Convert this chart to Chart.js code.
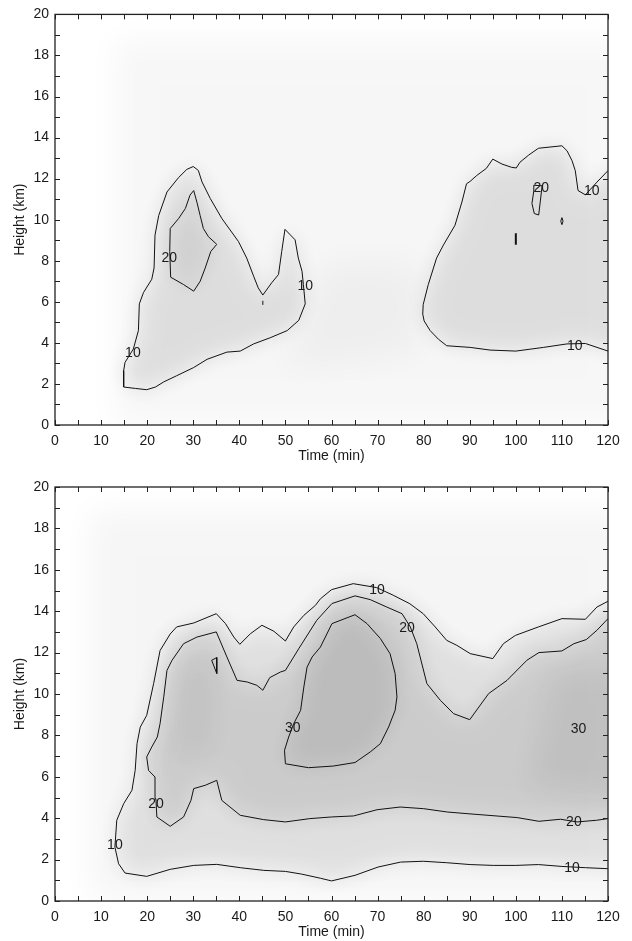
<!DOCTYPE html>
<html>
<head>
<meta charset="utf-8">
<script src="https://cdn.jsdelivr.net/npm/chart.js@4.4.1/dist/chart.umd.min.js"></script>
<style>
  body { margin: 0; background: #fff; width: 632px; height: 941px; overflow: hidden; }
  .box { position: absolute; left: 0; width: 632px; }
</style>
</head>
<body>
<div class="box" style="top:0;height:468px"><canvas id="topChart"></canvas></div>
<div class="box" style="top:468px;height:473px"><canvas id="bottomChart"></canvas></div>
<script>
const FONT = "'Liberation Sans', Arial, sans-serif";
const INK = "#1a1a1a";

// ---- top panel contours [time (min), height (km)] ----
const top10Left = [[14.9,1.85],[17.5,1.78],[19.9,1.72],[21.8,1.85],[23.6,2.1],[26.4,2.4],[30.1,2.8],[33,3.2],[37.3,3.55],[40.2,3.6],[43.1,3.95],[46.7,4.25],[50.4,4.6],[52.9,5.1],[54.3,5.9],[53.9,6.84],[53.6,7.49],[52.8,8.13],[52.1,9.02],[49.9,9.53],[49.2,8.45],[48.5,7.33],[47,6.92],[45.1,6.33],[44.1,6.68],[43.1,7.25],[41.6,8.13],[39.8,8.94],[36.2,10.06],[33.7,11.03],[31.9,11.84],[31.1,12.4],[30,12.59],[28.6,12.45],[26.8,12.05],[24.3,11.35],[22.5,10.2],[21.7,9.25],[21.5,7.65],[21,7.1],[19.2,6.45],[18.3,5.9],[18.1,4.6],[17,3.7],[15.2,3.05],[14.9,2.65],[14.9,1.85]];
const top20Left = [[25,9.57],[26.8,10.05],[28.3,10.55],[29.3,11.2],[30.1,11.42],[30.8,10.85],[31.5,10.2],[32.2,9.57],[33.3,9.17],[35.1,8.8],[33.8,8.45],[32.6,7.65],[31.5,7],[30.1,6.52],[27.9,6.84],[25.1,7.2],[24.9,8.45],[25,9.57]];
const top10Right = [[120,3.6],[115.1,3.97],[111.1,3.95],[106,3.78],[100,3.6],[94.4,3.65],[90.1,3.78],[85,3.86],[83.2,4.18],[81.4,4.6],[80.1,5.07],[79.8,5.4],[79.9,5.87],[81,6.84],[82.8,8.13],[84.3,8.77],[86.8,9.73],[88.3,10.86],[89.3,11.75],[90.1,11.87],[91.5,12.15],[93.6,12.5],[95,12.95],[97,12.71],[99.1,12.55],[100.1,12.52],[100.9,12.8],[102.8,13.15],[104.9,13.48],[110,13.6],[111.1,13.36],[112.2,12.87],[112.9,12.39],[113.5,11.42],[115.1,11.21],[117.6,11.83],[120,12.39]];
const top20Right = [[103.9,11.68],[105.7,11.65],[105.3,10.87],[104.96,10.23],[104,10.3],[103.5,10.79],[103.9,11.4],[103.9,11.68]];
const topDiamond = [[110,10.1],[110.25,9.93],[110,9.76],[109.75,9.93],[110,10.1]];
const topBar = [[100,8.78],[100,9.34]];
const topNotch = [[45.1,5.85],[45.1,6.05]];
const topLabels = [[24.8,8.15,"20"],[16.9,3.5,"10"],[54.3,6.76,"10"],[105.5,11.55,"20"],[116.5,11.4,"10"],[112.8,3.82,"10"]];
const topHaze = [[13,0],[13,18.8],[125,18.8],[125,0]];
const topBridge = [[48,2.5],[80,3.5],[80,8],[58,8]];

// ---- bottom panel contours ----
const bot10 = [[120,1.56],[115.1,1.61],[110,1.67],[104.9,1.76],[100,1.72],[95.1,1.72],[90.1,1.76],[85,1.85],[79.9,1.92],[75,1.88],[70.1,1.64],[65.1,1.24],[60,0.97],[57.6,1.1],[53.5,1.3],[50,1.43],[45.3,1.48],[40.2,1.61],[35.1,1.77],[30.1,1.72],[25,1.53],[19.9,1.19],[15.2,1.35],[13.8,1.8],[13,2.6],[13.4,3.9],[14.9,4.7],[16.7,5.35],[17.4,6.31],[17.8,7.6],[18.5,8.4],[19.9,8.97],[21.4,10.5],[22.8,12.1],[25,12.9],[26.4,13.24],[30.1,13.43],[35,13.88],[37,13.4],[38.8,12.75],[40.1,12.4],[42.4,12.91],[44.9,13.32],[47.5,13.03],[50,12.56],[51.8,13.24],[54,13.8],[56.5,14.28],[57.6,14.6],[60,15.04],[64.7,15.33],[69.8,15.14],[73.4,14.77],[77,14.36],[79.9,13.88],[82.5,13.24],[85,12.59],[87.2,12.35],[90.1,11.95],[95,11.71],[97.3,12.43],[99.9,12.83],[104.9,13.24],[110,13.64],[115.1,13.61],[117.6,14.2],[120,14.48]];
const bot20 = [[120,3.98],[117.5,3.9],[113.3,3.82],[109.7,3.95],[105,3.85],[100.3,4.03],[89.4,4.22],[85.1,4.3],[80,4.46],[74.9,4.54],[69.9,4.41],[64.8,4.11],[60,4.06],[55.3,3.98],[50,3.82],[45.3,3.93],[40.2,4.14],[36.2,4.86],[35.1,5.83],[32.6,5.59],[30.1,5.43],[29.5,4.86],[27.9,4.06],[25,3.61],[22.1,4.06],[21.9,4.94],[21.7,5.99],[20.3,6.31],[19.9,6.96],[21,7.44],[22.2,7.92],[22.8,8.57],[23.6,9.86],[24.3,11.14],[25.4,11.63],[27.9,12.43],[30.8,12.75],[35,13],[37.3,11.79],[39.5,10.66],[41.7,10.58],[43.8,10.42],[45.1,10.18],[46.6,10.79],[48.9,11.06],[50,11.14],[52.9,12.19],[56.8,13.56],[60.1,14.37],[65.1,14.74],[68.4,14.56],[72,14.2],[75.3,13.88],[77.1,13.24],[78.5,12.43],[80.7,10.5],[83.6,9.7],[86.5,9.05],[90,8.76],[91.2,9.13],[94.1,10.02],[98.1,10.66],[102.4,11.63],[105,12],[110,12.08],[112.6,12.43],[115.3,12.63],[117.6,13.08],[120,13.64]];
const bot20Tri = [[34,11.63],[35.1,11.76],[35.1,10.99],[34,11.63]];
const bot30 = [[50,6.63],[49.8,7.28],[50.7,7.92],[51.8,8.57],[53.3,9.21],[54,10.34],[54.7,11.3],[55.8,11.79],[57.6,12.27],[60.1,13.4],[65.1,13.83],[67.7,13.4],[70.6,12.68],[72.7,11.95],[73.8,10.99],[74.2,9.86],[73.8,9.21],[72.4,8.41],[70.6,7.6],[68.4,7.2],[65.1,6.69],[60.4,6.52],[55,6.44],[50,6.63]];
const botLabels = [[13,2.69,"10"],[21.9,4.67,"20"],[51.6,8.36,"30"],[69.9,15.04,"10"],[76.4,13.16,"20"],[113.6,8.28,"30"],[112.6,3.79,"20"],[112.2,1.61,"10"]];
const botHaze = [[7.5,0],[7.5,18.9],[125,18.9],[125,0]];
const botCoreLeft = [[25,7],[34,7],[35,11.5],[27,11.5]];
const botCoreRight = [[102,5.5],[125,5],[125,11.5],[108,11]];

// close open contours (ending on the right border) well outside the plot so blur stays even
function shadePath(pts) {
  const out = pts.slice();
  if (pts[0][0] >= 119.5 && pts[pts.length - 1][0] >= 119.5) {
    out.push([140, pts[pts.length - 1][1]]);
    out.unshift([140, pts[0][1]]);
  }
  return out;
}

function makeExtras(shades, labels) {
  return {
    id: "contourExtras",
    beforeDatasetsDraw(chart) {
      const { ctx, chartArea: a, scales: { x, y } } = chart;
      const OFF = 5000; // draw shapes off-canvas, keep only their blurred shadow
      ctx.save();
      ctx.beginPath();
      ctx.rect(a.left, a.top, a.width, a.height);
      ctx.clip();
      ctx.fillStyle = "#000";
      ctx.shadowOffsetX = OFF;
      ctx.shadowOffsetY = 0;
      shades.forEach((s) => {
        ctx.shadowColor = s.color;
        ctx.shadowBlur = s.blur || 22;
        ctx.beginPath();
        shadePath(s.pts).forEach((p, i) => {
          const px = x.getPixelForValue(p[0]) - OFF;
          const py = y.getPixelForValue(p[1]);
          if (i) ctx.lineTo(px, py); else ctx.moveTo(px, py);
        });
        ctx.closePath();
        ctx.fill();
      });
      ctx.restore();
    },
    afterDatasetsDraw(chart) {
      const { ctx, chartArea: a, scales: { x, y } } = chart;
      ctx.save();
      ctx.fillStyle = INK;
      ctx.font = "14px " + FONT;
      ctx.textAlign = "center";
      ctx.textBaseline = "middle";
      labels.forEach((l) => {
        ctx.fillText(l[2], x.getPixelForValue(l[0]), y.getPixelForValue(l[1]));
      });

      // frame and inward ticks on all four sides
      ctx.strokeStyle = "#222";
      ctx.lineWidth = 1.3;
      ctx.strokeRect(a.left, a.top, a.width, a.height);
      ctx.lineWidth = 1;
      const len = 5;
      ctx.beginPath();
      x.ticks.forEach((t) => {
        const px = Math.round(x.getPixelForValue(t.value)) + 0.5;
        ctx.moveTo(px, a.bottom); ctx.lineTo(px, a.bottom - len);
        ctx.moveTo(px, a.top); ctx.lineTo(px, a.top + len);
      });
      y.ticks.forEach((t) => {
        const py = Math.round(y.getPixelForValue(t.value)) + 0.5;
        ctx.moveTo(a.left, py); ctx.lineTo(a.left + len, py);
        ctx.moveTo(a.right, py); ctx.lineTo(a.right - len, py);
      });
      ctx.stroke();
      ctx.restore();
    },
  };
}

function makeChart(id, lines, shades, labels, pad) {
  return new Chart(document.getElementById(id), {
    type: "scatter",
    data: {
      datasets: lines.map((l) => ({
        data: l.pts.map((p) => ({ x: p[0], y: p[1] })),
        showLine: true,
        borderColor: "#111",
        borderWidth: l.w || 1,
        pointRadius: 0,
        tension: 0,
      })),
    },
    options: {
      responsive: true,
      maintainAspectRatio: false,
      animation: false,
      layout: { padding: pad },
      plugins: { legend: { display: false }, tooltip: { enabled: false } },
      scales: {
        x: {
          type: "linear", min: 0, max: 120,
          grid: { display: false, drawTicks: false },
          border: { display: false },
          ticks: {
            stepSize: 5, autoSkip: false, maxRotation: 0, padding: 8,
            color: INK, font: { family: FONT, size: 14 },
            callback: (v) => (v % 10 === 0 ? v : ""),
          },
          title: { display: true, text: "Time (min)", color: INK, font: { family: FONT, size: 14 }, padding: { top: 0, bottom: 0 } },
          afterFit: (s) => { s.height = 40; },
        },
        y: {
          type: "linear", min: 0, max: 20,
          grid: { display: false, drawTicks: false },
          border: { display: false },
          ticks: {
            stepSize: 1, autoSkip: false, padding: 6,
            color: INK, font: { family: FONT, size: 14 },
            callback: (v) => (v % 2 === 0 ? v : ""),
          },
          title: { display: true, text: "Height (km)", color: INK, font: { family: FONT, size: 14 }, padding: { top: 12, bottom: 0 } },
          afterFit: (s) => { s.width = 55; },
        },
      },
    },
    plugins: [makeExtras(shades, labels)],
  });
}

makeChart(
  "topChart",
  [
    { pts: top10Left }, { pts: top20Left }, { pts: top10Right }, { pts: top20Right },
    { pts: topDiamond }, { pts: topBar, w: 2 }, { pts: topNotch },
  ],
  [
    { pts: topHaze, color: "rgba(0,0,0,0.035)", blur: 30 },
    { pts: topBridge, color: "rgba(0,0,0,0.04)", blur: 40 },
    { pts: top10Left, color: "rgba(0,0,0,0.10)" },
    { pts: top20Left, color: "rgba(0,0,0,0.06)" },
    { pts: top10Right, color: "rgba(0,0,0,0.10)" },
  ],
  topLabels,
  { top: 11, right: 24, bottom: 3, left: 0 }
);

makeChart(
  "bottomChart",
  [{ pts: bot10 }, { pts: bot20 }, { pts: bot20Tri }, { pts: bot30 }],
  [
    { pts: botHaze, color: "rgba(0,0,0,0.04)", blur: 30 },
    { pts: bot10, color: "rgba(0,0,0,0.09)" },
    { pts: bot20, color: "rgba(0,0,0,0.09)" },
    { pts: botCoreLeft, color: "rgba(0,0,0,0.05)", blur: 30 },
    { pts: botCoreRight, color: "rgba(0,0,0,0.06)", blur: 30 },
    { pts: bot30, color: "rgba(0,0,0,0.08)" },
  ],
  botLabels,
  { top: 19, right: 24, bottom: 0, left: 0 }
);
</script>
</body>
</html>
